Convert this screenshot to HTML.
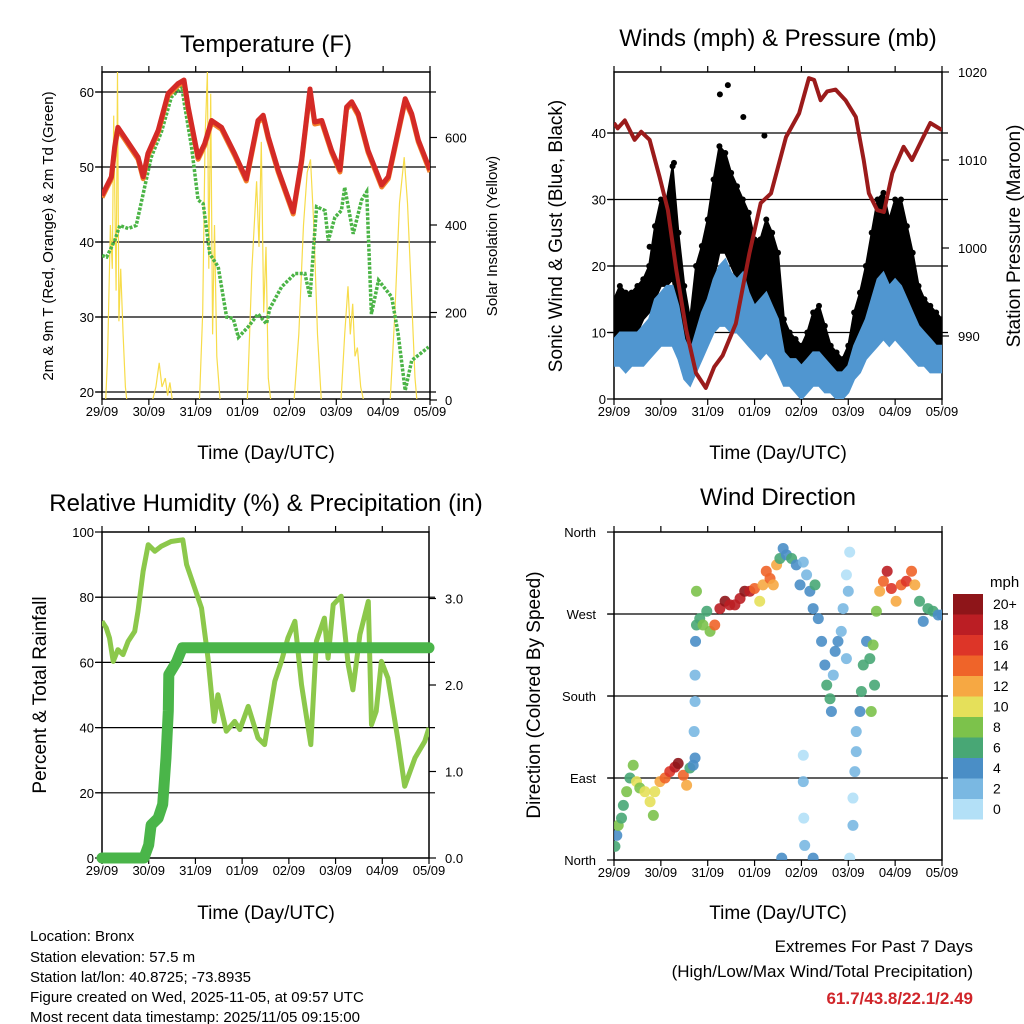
<!DOCTYPE html>
<html><head><meta charset="utf-8"><style>
html,body{margin:0;padding:0;background:#fff;}
svg{display:block;font-family:"Liberation Sans",sans-serif;}
</style></head><body>
<svg id="chart" width="1024" height="1024" viewBox="0 0 1024 1024" xmlns="http://www.w3.org/2000/svg">
<defs>
<clipPath id="c1"><rect x="102" y="72" width="328" height="327"/></clipPath>
<clipPath id="c2"><rect x="614" y="72" width="328" height="327"/></clipPath>
<clipPath id="c3"><rect x="102" y="532" width="327" height="326"/></clipPath>
<clipPath id="c4"><rect x="614" y="532" width="328" height="328"/></clipPath>
</defs>
<text x="266" y="52" font-size="24" text-anchor="middle">Temperature (F)</text>
<text x="778" y="46" font-size="24" text-anchor="middle">Winds (mph) &amp; Pressure (mb)</text>
<text x="266" y="511" font-size="24" text-anchor="middle">Relative Humidity (%) &amp; Precipitation (in)</text>
<text x="778" y="505" font-size="24" text-anchor="middle">Wind Direction</text>
<text x="266" y="459" font-size="19" text-anchor="middle">Time (Day/UTC)</text>
<text x="778" y="459" font-size="19" text-anchor="middle">Time (Day/UTC)</text>
<text x="266" y="919" font-size="19" text-anchor="middle">Time (Day/UTC)</text>
<text x="778" y="919" font-size="19" text-anchor="middle">Time (Day/UTC)</text>
<text transform="translate(53,236) rotate(-90)" font-size="15" text-anchor="middle">2m &amp; 9m T (Red, Orange) &amp; 2m Td (Green)</text>
<text transform="translate(497,236) rotate(-90)" font-size="15" text-anchor="middle">Solar Insolation (Yellow)</text>
<text transform="translate(562,236) rotate(-90)" font-size="19" text-anchor="middle">Sonic Wind &amp; Gust (Blue, Black)</text>
<text transform="translate(1020,236) rotate(-90)" font-size="19" text-anchor="middle">Station Pressure (Maroon)</text>
<text transform="translate(46,695) rotate(-90)" font-size="19" text-anchor="middle">Percent &amp; Total Rainfall</text>
<text transform="translate(540,695) rotate(-90)" font-size="19" text-anchor="middle">Direction (Colored By Speed)</text>
<g font-size="15">
<text x="30" y="941">Location: Bronx</text>
<text x="30" y="962">Station elevation: 57.5 m</text>
<text x="30" y="982">Station lat/lon: 40.8725; -73.8935</text>
<text x="30" y="1002">Figure created on Wed, 2025-11-05, at 09:57 UTC</text>
<text x="30" y="1022">Most recent data timestamp: 2025/11/05 09:15:00</text>
</g>
<text x="973" y="952" font-size="17" text-anchor="end">Extremes For Past 7 Days</text>
<text x="973" y="977" font-size="17" text-anchor="end">(High/Low/Max Wind/Total Precipitation)</text>
<text x="973" y="1004" font-size="17" font-weight="bold" fill="#d0252a" text-anchor="end">61.7/43.8/22.1/2.49</text>
<text x="990" y="587" font-size="15">mph</text>
</svg>
<script>
// ---- data ----
const dayLabels = ["29/09","30/09","31/09","01/09","02/09","03/09","04/09","05/09"];
const tempTicks = [20,30,40,50,60];
const solarTicks = [0,200,400,600];
const windTicks = [0,10,20,30,40];
const pressTicks = [990,1000,1010,1020];
const rhTicks = [0,20,40,60,80,100];
const rainTicks = [0,1,2,3];
const rainTickLabels = ["0.0","1.0","2.0","3.0"];
const dirTicks = [0,90,180,270,360];
const dirLabels = ["North","East","South","West","North"];
const speedBinLabels = ["20+","18","16","14","12","10","8","6","4","2","0"];
const speedBinColors = ["#8e1519","#bb1e24","#dd3528","#ef6429","#f6a843","#e5e05a","#7cc24b","#48a775","#4a8ec6","#7ab8e2","#b3e0f7"];

const tempT = [0,.2,.27,.34,.48,.77,.88,.98,1.2,1.41,1.62,1.75,1.84,2.05,2.19,2.34,2.55,2.83,3.08,3.33,3.44,3.55,3.76,4.08,4.26,4.44,4.54,4.69,4.9,5.08,5.22,5.33,5.47,5.68,5.97,6.11,6.47,6.61,6.75,7];
const tempV = [46.2,48.7,52.7,55.3,54,51.3,48.7,51.8,54.9,59.8,61.1,61.6,58,51.3,53.1,56.2,55.3,51.8,48.4,56.2,56.9,54,49.6,44,50.9,60.4,56,56.2,52.2,49.6,58,58.7,57.1,52.2,47.6,48.7,59.1,57.1,53.6,49.6];
const dewT = [0,.1,.27,.38,.56,.73,.91,1.05,1.27,1.48,1.7,1.77,1.91,2.05,2.16,2.3,2.48,2.66,2.8,2.91,3.12,3.33,3.51,3.58,3.83,4.12,4.33,4.44,4.58,4.76,4.83,4.97,5.11,5.18,5.36,5.54,5.65,5.75,5.9,6.18,6.32,6.47,6.61,6.79,6.97];
const dewV = [38.2,38,40.2,42.2,41.8,42.2,47.3,51.3,54.7,59.3,60.7,58,52.7,45.6,45.1,38.4,36.7,30,29.8,27.3,28.7,30.4,29.1,31.1,34,35.8,35.8,32.7,44.7,44.2,40.2,43.3,44.2,47.3,41.1,45.6,46.7,30.4,34.9,32.7,27.8,20.2,24.2,25.1,26];
const solarT = [0.08,0.12,0.18,0.22,0.25,0.3,0.33,0.36,0.4,0.45,0.5,0.53,1.08,1.15,1.22,1.28,1.35,1.4,1.45,1.5,2.08,2.15,2.2,2.25,2.28,2.32,2.36,2.4,2.45,2.52,3.1,3.2,3.3,3.35,3.4,3.45,3.5,3.55,3.6,4.1,4.2,4.3,4.38,4.45,4.52,4.6,4.68,5.1,5.18,5.25,5.3,5.35,5.4,5.45,5.52,5.58,6.15,6.25,6.35,6.45,6.52,6.6,6.68,6.72];
const solarV = [0,100,400,300,650,250,750,180,300,150,30,0,0,30,85,30,50,10,40,0,0,200,600,750,300,700,150,400,100,0,0,300,500,350,590,200,350,50,0,0,150,400,520,550,400,150,0,0,150,260,150,220,100,120,30,0,0,200,450,555,450,250,50,0];

const windT = [0,.125,.25,.375,.5,.625,.75,.875,1,1.125,1.25,1.375,1.5,1.625,1.75,1.875,2,2.125,2.25,2.375,2.5,2.625,2.75,2.875,3,3.125,3.25,3.375,3.5,3.625,3.75,3.875,4,4.125,4.25,4.375,4.5,4.625,4.75,4.875,5,5.125,5.25,5.375,5.5,5.625,5.75,5.875,6,6.125,6.25,6.375,6.5,6.625,6.75,6.875,7];
const windLo = [5,5,4,5,5,5,6,7,8,8,8,6,3,2,4,6,8,10,11,11,10,10,9,8,7,6,7,6,4,2,2,1,0,1,2,2,1,1,0,0,1,3,4,6,7,8,9,8,9,8,7,6,5,5,4,4,4];
const windHi = [9,10,10,10,10,11,12,15,16,17,17,14,9,7,10,13,15,18,20,21,19,18,19,16,14,15,16,14,12,7,6,6,5,6,7,7,6,5,4,4,5,8,10,12,15,18,19,17,18,17,15,13,11,10,9,8,8];
const gustLo = [9,9,10,10,10,12,13,15,17,17,18,13,8,6,9,12,15,18,22,22,20,18,17,15,12,11,12,11,8,5,4,4,3,4,5,6,4,3,2,2,3,6,8,10,13,15,15,14,15,14,12,10,9,8,7,6,6];
const gustHi = [15,17,16,16,17,18,20,26,30,30,35,25,17,12,20,23,27,33,38,37,34,32,30,28,24,24,27,25,22,12,10,9,8,10,13,14,11,8,7,6,8,13,16,20,25,30,31,27,30,30,26,22,17,15,14,13,12];
const gustOutT = [2.43,2.26,2.76,3.21,1.28,0.76];
const gustOutV = [47.2,45.8,42.4,39.6,35.5,22.9];
const pressT = [0,.08,.23,.44,.58,.76,.97,1.15,1.33,1.54,1.75,1.96,2.14,2.32,2.6,2.89,3.13,3.35,3.67,3.95,4.16,4.27,4.41,4.55,4.73,4.94,5.16,5.33,5.44,5.62,5.76,5.94,6.18,6.36,6.57,6.75,7];
const pressV = [1014.2,1013.6,1014.5,1012.3,1013.2,1012.3,1008.1,1004.3,997.5,990.7,985.8,984.1,986.5,987.8,991.4,999.4,1005.1,1006.2,1012.6,1015.3,1019.3,1019.1,1016.8,1017.8,1018,1016.8,1014.9,1010,1006.2,1004.3,1004.1,1008.5,1011.5,1010,1012.3,1014.2,1013.4];

const rhT = [0,.09,.16,.24,.34,.45,.56,.7,.77,.88,.99,1.13,1.27,1.48,1.73,1.81,1.91,2.13,2.27,2.4,2.48,2.66,2.84,2.95,3.13,3.34,3.48,3.7,3.84,3.98,4.13,4.27,4.47,4.59,4.76,4.84,4.95,5.12,5.27,5.37,5.52,5.7,5.77,5.87,5.98,6.12,6.34,6.48,6.7,6.91,7];
const rhV = [72.6,70.6,67.5,60.3,63.9,62.4,66.5,69.5,75.7,87.9,96.1,94.1,95.6,97.1,97.6,90,85.9,76.7,61.3,41.9,50.1,38.9,41.9,39.4,46.5,36.8,34.8,54.2,60.3,67.5,72.6,53.2,34.8,66.5,73.6,61.3,77.7,80.3,59.3,51.6,68.5,78.7,40.9,45,60.3,55.2,35.8,22,30.7,35.8,39.9];
const rainT = [0,.9,1.0,1.05,1.2,1.3,1.37,1.42,1.43,1.6,1.72,7];
const rainV = [0,0,.15,.38,.46,.62,1.16,1.7,2.12,2.27,2.43,2.43];

const dirT = [.02,.06,.09,.16,.2,.27,.34,.41,.48,.55,.66,.77,.84,.87,.98,1.09,1.19,1.3,1.37,1.48,1.55,1.62,1.69,1.73,1.71,1.73,1.73,1.74,1.76,1.76,1.83,1.9,1.98,2.05,2.15,2.26,2.37,2.47,2.58,2.69,2.79,2.9,3.0,3.11,3.18,3.25,3.33,3.4,3.47,3.54,3.61,3.68,3.79,3.89,3.97,4.04,4.11,4.18,4.25,4.29,4.36,4.43,4.5,4.54,4.61,4.64,4.68,4.72,4.78,4.85,4.89,4.96,5.03,5.0,4.96,4.04,4.04,4.05,4.07,3.58,4.25,5.03,5.1,5.1,5.14,5.17,5.17,5.25,5.28,5.32,5.39,5.46,5.53,5.56,5.49,5.6,5.67,5.75,5.83,5.92,6.02,6.13,6.24,6.35,6.42,6.52,6.6,6.7,6.81,6.92,7.0];
const dirV = [15,27,38,46,60,75,90,104,86,79,75,64,49,75,86,90,97,102,106,93,82,101,104,112,141,174,203,240,258,295,265,258,273,251,258,276,284,280,280,287,295,295,298,284,302,317,309,302,324,331,342,335,331,324,302,327,313,295,276,302,265,240,214,192,177,163,203,229,240,251,276,313,338,295,221,115,86,46,16,2,2,2,38,68,97,119,141,163,185,214,240,221,236,192,163,273,295,306,317,298,284,302,306,317,302,284,262,276,273,269,269];
const dirS = [6,4,8,7,6,8,7,9,10,8,11,10,9,10,13,15,17,19,21,15,12,7,5,4,3,3,2,4,7,8,7,9,7,8,14,18,21,19,18,19,21,19,15,10,12,14,15,13,12,7,5,4,6,4,4,2,3,4,4,6,5,4,5,7,6,4,3,4,4,2,2,1,1,2,2,1,2,1,3,4,4,1,3,1,2,2,2,4,6,6,4,6,8,7,8,8,12,14,19,16,12,15,17,14,13,7,5,6,6,5,4];

// ---- helpers ----
const NS = "http://www.w3.org/2000/svg";
const svg = document.getElementById("chart");
function el(tag, attrs, parent) {
  const e = document.createElementNS(NS, tag);
  for (const k in attrs) e.setAttribute(k, attrs[k]);
  (parent || svg).appendChild(e);
  return e;
}
function txt(s, x, y, size, anchor, parent) {
  const t = el("text", {x: x, y: y, "font-size": size, "text-anchor": anchor}, parent);
  t.textContent = s;
  return t;
}
function pathFrom(ts, vs, fx, fy) {
  let d = "";
  for (let i = 0; i < ts.length; i++) d += (i ? "L" : "M") + fx(ts[i]).toFixed(1) + "," + fy(vs[i]).toFixed(1);
  return d;
}
function bandFrom(ts, lo, hi, fx, fy) {
  let d = "";
  for (let i = 0; i < ts.length; i++) d += (i ? "L" : "M") + fx(ts[i]).toFixed(1) + "," + fy(hi[i]).toFixed(1);
  for (let i = ts.length - 1; i >= 0; i--) d += "L" + fx(ts[i]).toFixed(1) + "," + fy(lo[i]).toFixed(1);
  return d + "Z";
}
function speedColor(s) {
  const b = Math.min(10, Math.floor(s / 2));
  return speedBinColors[10 - b];
}

const P = [
  {x0:102, x1:430, y0:72, y1:399},
  {x0:614, x1:942, y0:72, y1:399},
  {x0:102, x1:429, y0:532, y1:858},
  {x0:614, x1:942, y0:532, y1:860}
];
function xf(p) { return d => p.x0 + d * (p.x1 - p.x0) / 7; }
const x1f = xf(P[0]), x2f = xf(P[1]), x3f = xf(P[2]), x4f = xf(P[3]);
const yT = v => 92 + (60 - v) * 7.5;
const yS = v => 400 - v * 0.4375;
const ySp = v => 399 - v * 6.65;
const yP = v => 336 - (v - 990) * 8.8;
const yRH = v => 858 - v * 3.26;
const yRain = v => 858 - v * 86.5;
const yDir = v => 860 - v * 0.911;

function frame(p, name, grid, gy, leftTicks, lfy, leftLabels, rightTicks, rfy, rightLabels, lx, rx) {
  const g = el("g", {});
  
  
  grid.forEach(v => {
    const l = el("line", {x1: p.x0 - 6, x2: p.x1 + 6, y1: gy(v), y2: gy(v), stroke: "#000", "stroke-width": 1.2}, g);
    
    
  });
  const r = el("rect", {x: p.x0, y: p.y0, width: p.x1 - p.x0, height: p.y1 - p.y0, fill: "none", stroke: "#000", "stroke-width": 1.5}, g);
  
  
  const fx = xf(p);
  for (let i = 0; i < dayLabels.length; i++) {
    const x = fx(i);
    const tk = el("path", {d: `M${x},${p.y1}v6M${x},${p.y0}v-6`, stroke: "#000", "stroke-width": 1.2}, g);
    
    
    const t = txt(dayLabels[i], x, p.y1 + 17, 13, "middle", g);
    
    
  }
  leftTicks.forEach((v, i) => {
    const y = lfy(v);
    const tk = el("line", {x1: p.x0 - 7, x2: p.x0, y1: y, y2: y, stroke: "#000", "stroke-width": 1.2}, g);
    
    
    const t = txt(leftLabels[i], lx, y + 5, 13, "end", g);
    
    
  });
  rightTicks.forEach((v, i) => {
    const y = rfy(v);
    const tk = el("line", {x1: p.x1, x2: p.x1 + 7, y1: y, y2: y, stroke: "#000", "stroke-width": 1.2}, g);
    
    
    const t = txt(rightLabels[i], rx, y + 5, 13, "start", g);
    
    
  });
}

// ---- Panel 1 ----
frame(P[0], "temp", tempTicks, yT, tempTicks, yT, tempTicks.map(String), solarTicks, yS, solarTicks.map(String), 94, 445);
const g1 = el("g", {"clip-path": "url(#c1)"});


const solar = el("path", {d: pathFrom(solarT, solarV, x1f, yS), fill: "none", stroke: "#f7dc4a", "stroke-width": 1.2}, g1);


const dew = el("path", {d: pathFrom(dewT, dewV, x1f, yT), fill: "none", stroke: "#4bb446", "stroke-width": 3.5, "stroke-dasharray": "3 1.5"}, g1);


const t9 = el("path", {d: pathFrom(tempT, tempV, x1f, yT), fill: "none", stroke: "#f2822a", "stroke-width": 5, "stroke-linejoin": "round", transform: "translate(0,2)"}, g1);


const t2 = el("path", {d: pathFrom(tempT, tempV, x1f, yT), fill: "none", stroke: "#d42a26", "stroke-width": 5, "stroke-linejoin": "round"}, g1);



// ---- Panel 2 ----
frame(P[1], "winds", [10,20,30,40], ySp, windTicks, ySp, windTicks.map(String), pressTicks, yP, pressTicks.map(String), 606, 958);
const g2 = el("g", {"clip-path": "url(#c2)"});


const gust = el("path", {d: bandFrom(windT, gustLo, gustHi, x2f, ySp), fill: "#000", stroke: "#000", "stroke-width": 2, "stroke-linejoin": "round"}, g2);


for (let i = 0; i < windT.length; i++) {
  const c = el("circle", {cx: x2f(windT[i]), cy: ySp(gustHi[i]), r: 3, fill: "#000"}, g2);
  
  
}
for (let i = 0; i < gustOutT.length; i++) {
  const c = el("circle", {cx: x2f(gustOutT[i]), cy: ySp(gustOutV[i]), r: 3, fill: "#000"}, g2);
  
  
}
const wind = el("path", {d: bandFrom(windT, windLo, windHi, x2f, ySp), fill: "#5096d0", stroke: "#5096d0", "stroke-width": 2}, g2);


const press = el("path", {d: pathFrom(pressT, pressV, x2f, yP), fill: "none", stroke: "#9b1b1b", "stroke-width": 4, "stroke-linejoin": "round"}, g2);



// ---- Panel 3 ----
frame(P[2], "humidity", [20,40,60,80], yRH, rhTicks, yRH, rhTicks.map(String), rainTicks, yRain, rainTickLabels, 94, 445);
const g3 = el("g", {"clip-path": "url(#c3)"});


const rh = el("path", {d: pathFrom(rhT, rhV, x3f, yRH), fill: "none", stroke: "#8cc84b", "stroke-width": 5, "stroke-linejoin": "round"}, g3);


const g3b = el("g", {});


const rain = el("path", {d: pathFrom(rainT, rainV, x3f, yRain), fill: "none", stroke: "#4ab549", "stroke-width": 11, "stroke-linecap": "round", "stroke-linejoin": "round"}, g3b);



// ---- Panel 4 ----
frame(P[3], "direction", [90,180,270], yDir, dirTicks, yDir, dirLabels, [], yDir, [], 596, 0);
const g4 = el("g", {"clip-path": "url(#c4)"});


for (let i = 0; i < dirT.length; i++) {
  const c = el("circle", {cx: x4f(dirT[i]), cy: yDir(dirV[i]), r: 5.5, fill: speedColor(dirS[i]), "fill-opacity": 0.9}, g4);
  
  
}
const cb = el("g", {});


for (let i = 0; i < speedBinColors.length; i++) {
  const y = 594 + i * 20.5;
  const r = el("rect", {x: 953, y: y, width: 30, height: 20.5, fill: speedBinColors[i]}, cb);
  
  
  const t = txt(speedBinLabels[i], 993, y + 15, 14, "start", cb);
  
  
}
</script>
</body></html>
